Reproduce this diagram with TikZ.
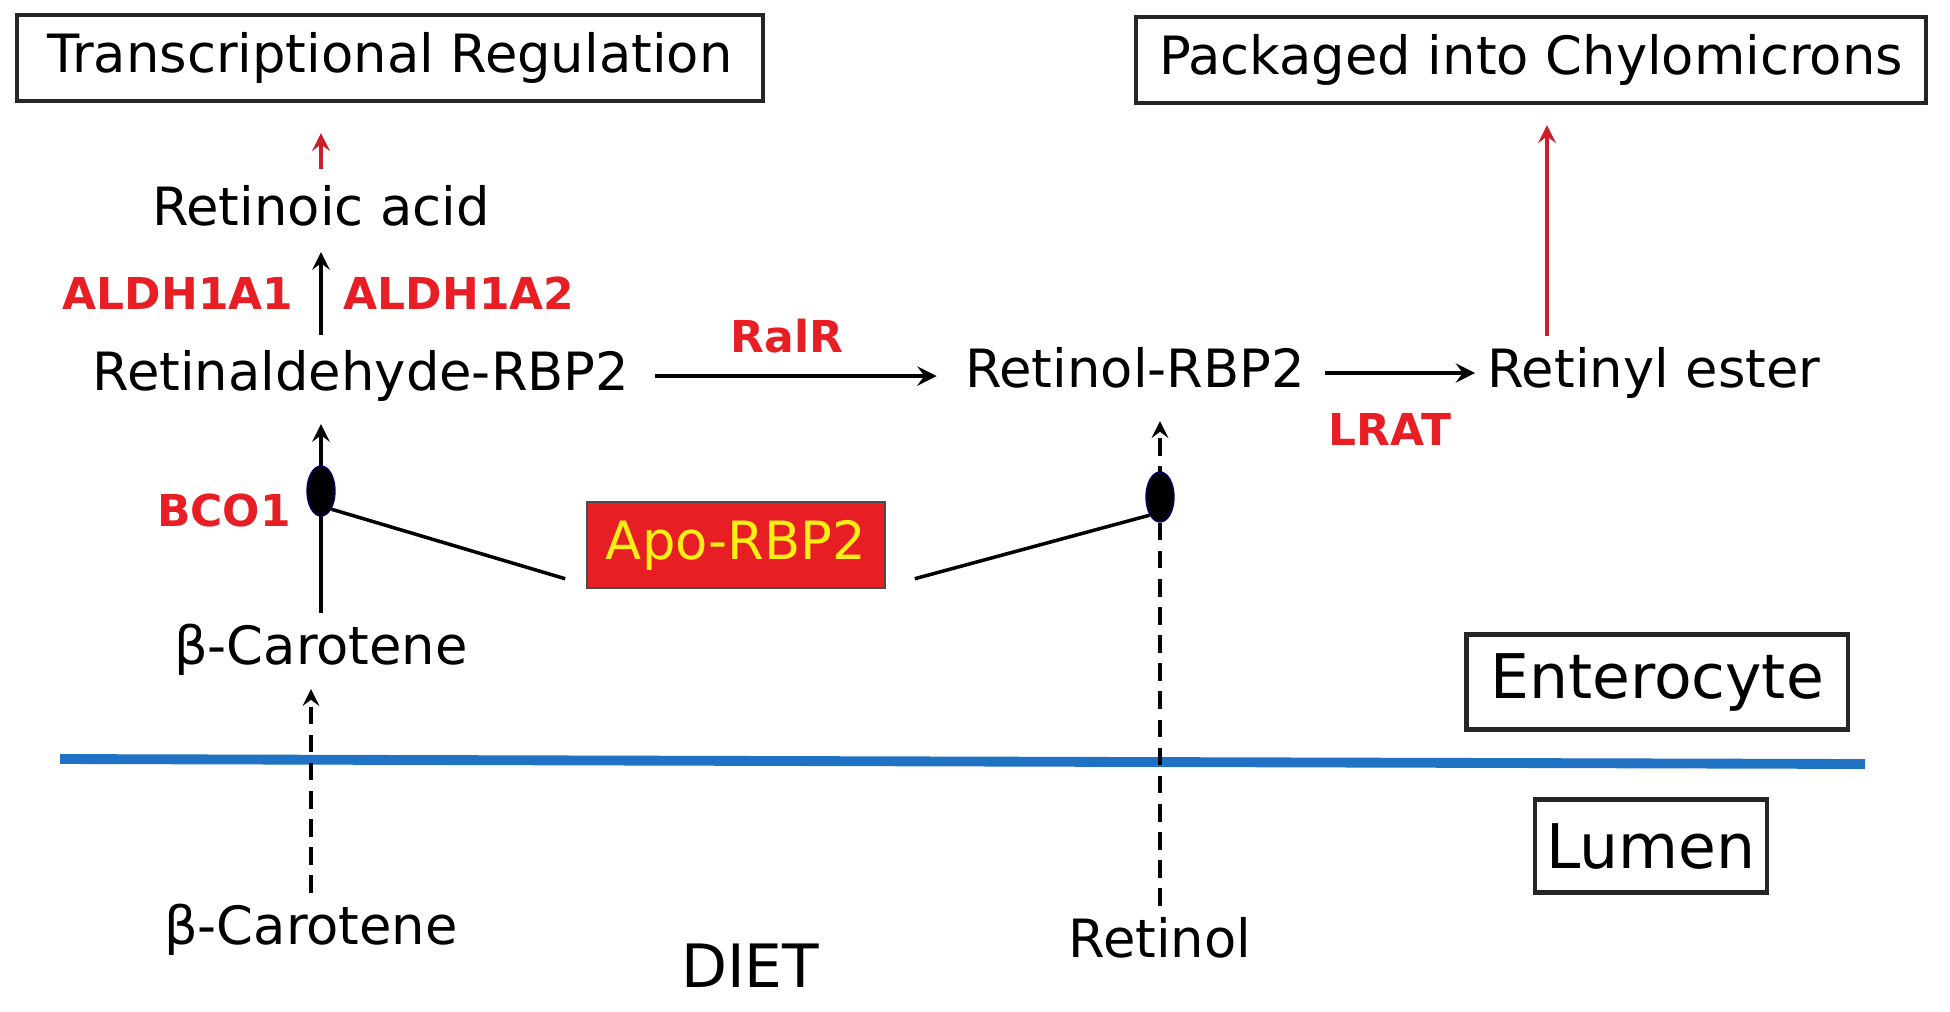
\documentclass[tikz,border=0pt]{standalone}
\usepackage{fontspec}
\setmainfont{DejaVu Sans}
\usetikzlibrary{calc, shapes}

\definecolor{enzred}{RGB}{232,30,37}
\definecolor{darkred}{RGB}{200,32,40}
\definecolor{membrane}{RGB}{32,114,196}
\definecolor{apoyellow}{RGB}{255,240,20}

\begin{document}
\begin{tikzpicture}[x=.01cm, y=-.01cm, >=stealth]
    \tikzstyle{compound} = [text height=11pt, text depth=3pt, font=\fontsize{15}{18}\selectfont]
    \tikzstyle{enzyme} = [text=enzred, font=\bfseries\fontsize{12.5}{15}\selectfont]
    \tikzstyle{outcome} = [draw=black!85, line width=1.2pt, minimum height=.86cm,
        font=\fontsize{15}{18}\selectfont]
    \tikzstyle{compartment} = [draw=black!85, line width=1.2pt, minimum height=.95cm,
        font=\fontsize{17.5}{21}\selectfont]
    \tikzstyle{blob} = [ellipse, fill=black, draw=blue!40!black, minimum width=.28cm,
        minimum height=.5cm, inner sep=0pt]
    \tikzstyle{uptake} = [->, line width=1.1pt, dash pattern=on 5pt off 3pt]

    \useasboundingbox (0, 0) rectangle (1950, 1011);

    % Outcomes ------------------------------------------
    \node (trbox) at (390, 58) [outcome, minimum width=7.45cm] {Transcriptional Regulation};
    \node (pcbox) at (1531, 60) [outcome, minimum width=7.89cm] {Packaged into Chylomicrons};

    % Compounds -----------------------------------------
    \node (racid) at (321, 211) [compound] {Retinoic acid};
    \node (retald) at (361, 376) [compound] {Retinaldehyde-RBP2};
    \node (rolrbp) at (1135, 373) [compound] {Retinol-RBP2};
    \node (rester) at (1654, 373) [compound] {Retinyl ester};
    \node (carup) at (321, 650) [compound] {β-Carotene};
    \node (carlow) at (311, 930) [compound] {β-Carotene};
    \node (retinol) at (1160, 943) [compound] {Retinol};
    \node (diet) at (750, 973) [compound, font=\fontsize{17}{20}\selectfont] {DIET};
    % ---------------------------------------------------

    % Enzymes
    \node (aldha) at (178, 293) [enzyme] {ALDH1A1};
    \node (aldhb) at (459, 293) [enzyme] {ALDH1A2};
    \node (ralr) at (787, 336) [enzyme] {RalR};
    \node (lrat) at (1390, 429) [enzyme] {LRAT};
    \node (bco) at (224, 510) [enzyme] {BCO1};

    \node (apo) at (736, 545) [draw=black!70, fill=enzred, text=apoyellow, minimum width=2.98cm,
        minimum height=.86cm, font=\fontsize{15}{18}\selectfont] {Apo-RBP2};

    % Compartments --------------------------------------
    \node (entero) at (1657, 682) [compartment, minimum width=3.81cm] {Enterocyte};
    \node (lumen) at (1651, 846) [compartment, minimum width=2.23cm, minimum height=.93cm] {Lumen};

    \coordinate (memL) at (60, 759);
    \coordinate (memR) at (1865, 764);
    \draw [membrane, line width=2.8pt] (memL) -- (memR);

    % Reactions -----------------------------------------
    \draw [->, very thick, darkred, shorten <=.05cm, shorten >=.3cm] (racid.north) -- (racid.north |- trbox.south);
    \draw [->, very thick, shorten <=.04cm, shorten >=.04cm] (racid.south |- retald.north) -- (racid.south);
    \draw [->, line width=1.4pt, shorten <=.13cm, shorten >=.16cm] (retald.east) -- (retald.east -| rolrbp.west);
    \draw [->, line width=1.4pt, shorten <=.08cm] (rolrbp.east) -- (rester.west);

    \coordinate (reup) at ($(rester.north) + (-107, 0)$);
    \draw [->, very thick, darkred, shorten >=.2cm] (reup) -- (reup |- pcbox.south);

    % Uptake
    \draw [->, very thick, shorten >=.11cm] (carup.north) -- (carup.north |- retald.south);
    \draw [uptake, shorten >=.02cm] (carlow.north) -- (carlow.north |- carup.south);
    \draw [uptake, shorten >=.11cm] (retinol.north) -- (retinol.north |- rolrbp.south);

    % Apo-RBP2 binding
    \node (lblob) at (321, 491) [blob] {};
    \node (rblob) at (1160, 497) [blob] {};
    \draw [line width=1pt] (lblob.south east) -- ($(apo.south west) + (-21, -10)$);
    \draw [line width=1pt] ($(apo.south east) + (29, -10)$) -- (rblob.south west);
\end{tikzpicture}
\end{document}
